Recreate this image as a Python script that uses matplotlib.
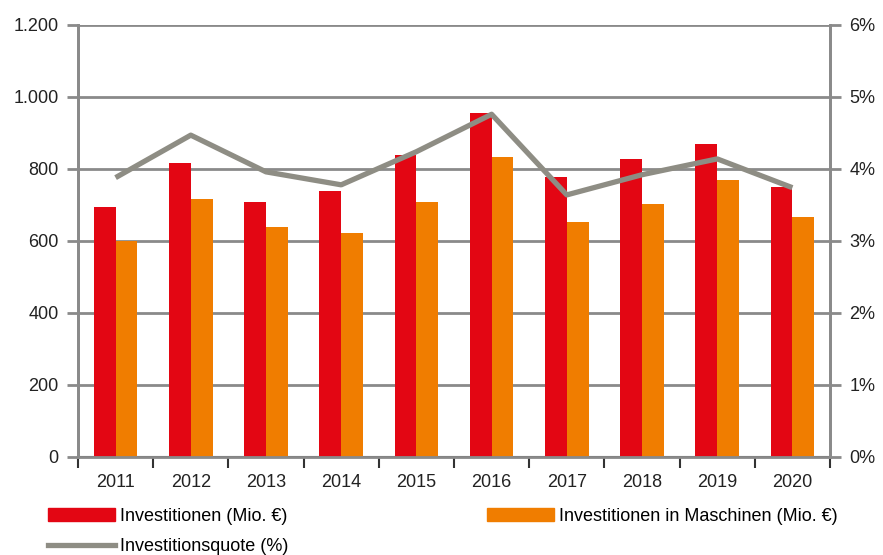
import numpy as np
import matplotlib
matplotlib.use("Agg")
import matplotlib.pyplot as plt
from matplotlib.ticker import FuncFormatter, FixedLocator
from matplotlib.patches import Patch
from matplotlib.lines import Line2D

plt.rcParams['font.family'] = ['Liberation Sans Narrow', 'Liberation Sans', 'DejaVu Sans']

years = ['2011', '2012', '2013', '2014', '2015', '2016', '2017', '2018', '2019', '2020']
investitionen = [694, 817, 708, 739, 839, 955, 778, 828, 869, 750]
maschinen = [600, 717, 639, 622, 708, 833, 653, 703, 769, 667]
quote = [3.88, 4.47, 3.96, 3.78, 4.24, 4.76, 3.64, 3.92, 4.14, 3.74]

red = '#E30613'
orange = '#F07D00'
grey_line = '#8E8D84'
axis_grey = '#8A8A8A'

fig = plt.figure(figsize=(8.83, 5.55), dpi=100)
ax = fig.add_axes([0.0883, 0.1766, 0.8517, 0.7784])
ax2 = ax.twinx()

x = np.arange(len(years))
w = 0.29
ax.bar(x - w/2, investitionen, w, color=red, zorder=3)
ax.bar(x + w/2, maschinen, w, color=orange, zorder=3)
ax2.plot(x, quote, color=grey_line, lw=3.8, solid_capstyle='butt', zorder=4)

ax.set_xlim(-0.5, len(years) - 0.5)
ax.set_ylim(0, 1200)
ax2.set_ylim(0, 6)
ax.set_yticks(np.arange(0, 1201, 200))
ax2.set_yticks(np.arange(0, 7, 1))
ax.yaxis.set_major_formatter(FuncFormatter(lambda v, p: f'{int(v):,}'.replace(',', '.')))
ax2.yaxis.set_major_formatter(FuncFormatter(lambda v, p: f'{int(v)}%'))

ax.set_xticks(x)
ax.set_xticklabels(years)
ax.xaxis.set_minor_locator(FixedLocator(np.arange(-0.5, len(years), 1)))
ax.tick_params(axis='x', which='major', length=0, pad=12, labelsize=13, labelcolor='#222222')
ax.tick_params(axis='x', which='minor', length=8, width=1.5, color='#333333', direction='out')
ax.tick_params(axis='y', length=8, width=2, color=axis_grey, direction='out', labelsize=13, labelcolor='#222222', pad=6)
ax2.tick_params(axis='y', length=8, width=2, color=axis_grey, direction='out', labelsize=13, labelcolor='#222222', pad=6)

ax.grid(axis='y', color=axis_grey, lw=2, zorder=0)
ax.set_axisbelow(True)
for a in (ax, ax2):
    for s in a.spines.values():
        s.set_color(axis_grey)
        s.set_linewidth(2)
    a.spines['top'].set_visible(False)
ax.spines['bottom'].set_color('#555555')
ax.spines['bottom'].set_linewidth(1.5)
ax.set_zorder(ax2.get_zorder() - 1)
ax.patch.set_visible(True)
ax2.patch.set_visible(False)

handles = [Patch(color=red), Line2D([], [], color=grey_line, lw=3.8),
           Patch(color=orange)]
labels = ['Investitionen (Mio. €)', 'Investitionsquote (%)',
          'Investitionen in Maschinen (Mio. €)']
fig.legend(handles, labels, ncol=2, loc='lower left', bbox_to_anchor=(0.036, -0.03),
           frameon=False, fontsize=13, handlelength=3.7, handleheight=0.7,
           handletextpad=0.3, columnspacing=11.0, labelspacing=0.75)

fig.savefig('out.png', dpi=100)
